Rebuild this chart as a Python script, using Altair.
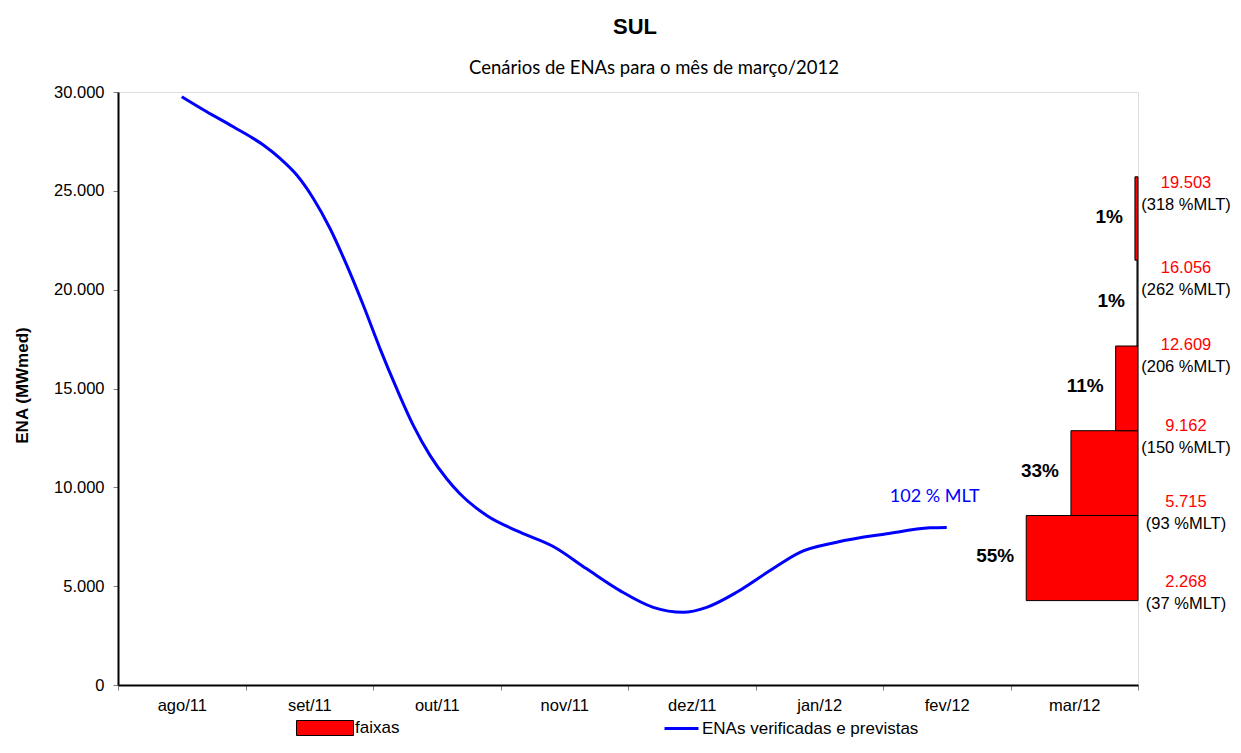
import altair as alt
import pandas as pd

FONT = "Liberation Sans"

months = ["ago/11", "set/11", "out/11", "nov/11", "dez/11", "jan/12", "fev/12", "mar/12"]

# ENAs verificadas e previstas (position in month units, value in MWmed)
line_pos = [0.5, 0.696, 0.904, 1.140, 1.271, 1.402, 1.532, 1.663, 1.794, 1.924, 2.055,
            2.186, 2.316, 2.447, 2.578, 2.682, 2.892, 3.153, 3.414, 3.676, 3.937, 4.198,
            4.434, 4.617, 4.852, 5.114, 5.349, 5.637, 6.029, 6.369, 6.5]
line_val = [29760, 29000, 28240, 27315, 26640, 25800, 24615, 23095, 21240, 19210, 17020,
            14990, 13135, 11615, 10435, 9675, 8575, 7730, 7005, 5875, 4775, 3930,
            3680, 3930, 4690, 5790, 6715, 7225, 7650, 7950, 7970]
end_label = "102 % MLT"

# faixas (scenario bands for março/2012)
band_low = [4270, 8575, 12865, 17150, 21490]
band_high = [8575, 12865, 17150, 21490, 25710]
band_pct = [55, 33, 11, 0.5, 1.5]
band_pct_label = ["55%", "33%", "11%", "1%", "1%"]

# threshold labels
thr_val = ["2.268", "5.715", "9.162", "12.609", "16.056", "19.503"]
thr_mlt = ["(37 %MLT)", "(93 %MLT)", "(150 %MLT)", "(206 %MLT)", "(262 %MLT)", "(318 %MLT)"]
thr_y = [5200, 9250, 13100, 17190, 21120, 25380]

title_text = "SUL"
subtitle_text = "Cenários de ENAs para o mês de março/2012"

line_df = pd.DataFrame({"pos": line_pos, "ena": line_val,
                        "serie": "ENAs verificadas e previstas"})
end_df = line_df.tail(1).assign(lbl=end_label)
band_df = pd.DataFrame({"lo": band_low, "hi": band_high, "pct": band_pct,
                        "plbl": band_pct_label, "serie": "faixas"})
band_df["mid"] = (band_df["lo"] + band_df["hi"]) / 2
band_df["zero"] = 0
thr_df = pd.DataFrame({"val": thr_val, "mlt": thr_mlt, "ly": thr_y, "zero": 0})

month_arr = "[" + ",".join("'%s'" % m for m in months) + ", '']"

y_axis = alt.Axis(
    values=list(range(0, 30001, 5000)),
    labelExpr="replace(format(datum.value, ',d'), ',', '.')",
    title="ENA (MWmed)", titleFont=FONT, titleFontSize=17, titleFontWeight="bold",
    titleColor="black", titleAngle=270, titleX=-96, titleY=293, titleAlign="center",
    titleBaseline="middle",
    labelFont=FONT, labelFontSize=16.5, labelColor="black", labelPadding=9,
    tickColor="#808080", tickSize=5, domainColor="black", domainWidth=2, grid=False,
)
y_scale = alt.Scale(domain=[0, 30000], nice=False)

x_axis = alt.Axis(
    values=list(range(0, 9)),
    labelExpr=month_arr + "[datum.value]",
    labelOffset=63.75, labelFlush=False, labelOverlap=False,
    labelFont=FONT, labelFontSize=16.5, labelColor="black", labelPadding=7,
    tickColor="#808080", tickSize=5, domainColor="black", domainWidth=2,
    grid=False, title=None,
)

line = alt.Chart(line_df).mark_line(strokeWidth=3, interpolate="monotone").encode(
    x=alt.X("pos:Q", scale=alt.Scale(domain=[0, 8], nice=False, zero=False), axis=x_axis),
    y=alt.Y("ena:Q", scale=y_scale, axis=y_axis),
    stroke=alt.Stroke("serie:N", scale=alt.Scale(domain=["ENAs verificadas e previstas"],
                                                  range=["#0000FF"]),
                      legend=alt.Legend(orient="none", legendX=545, legendY=618,
                                        title=None, symbolType="stroke", symbolSize=1156,
                                        symbolStrokeWidth=3, labelFont=FONT,
                                        labelFontSize=17, labelColor="black",
                                        labelOffset=2, padding=0, labelLimit=0)),
)
end_text = alt.Chart(end_df).mark_text(
    font="Lato", fontSize=18, color="#0000FF", dx=-12, dy=-30
).encode(
    x=alt.X("pos:Q"), y=alt.Y("ena:Q", scale=y_scale, axis=y_axis), text="lbl:N"
)
main = alt.layer(line, end_text)

xb = alt.Scale(domain=[0, 502], reverse=True, nice=False, zero=False)
bars = alt.Chart(band_df).mark_bar(stroke="black", strokeWidth=1).encode(
    x=alt.X("pct:Q", scale=xb, axis=None),
    x2="zero:Q",
    y=alt.Y("lo:Q", scale=y_scale, axis=y_axis),
    y2="hi:Q",
    fill=alt.Fill("serie:N", scale=alt.Scale(domain=["faixas"], range=["#FF0000"]),
                  legend=alt.Legend(orient="none", legendX=178, legendY=607, title=None,
                                    symbolType="M-1,-0.263H1V0.263H-1Z", symbolSize=3249,
                                    symbolStrokeColor="black", symbolStrokeWidth=1,
                                    labelFont=FONT, labelFontSize=17, labelColor="black",
                                    labelOffset=1, padding=0, labelLimit=0)),
)
pct_text = alt.Chart(band_df).mark_text(
    font=FONT, fontSize=19, fontWeight="bold", color="black", align="right", dx=-12, dy=-2
).encode(
    x=alt.X("pct:Q", scale=xb, axis=None),
    y=alt.Y("mid:Q", scale=y_scale, axis=y_axis),
    text="plbl:N",
)
thr_red = alt.Chart(thr_df).mark_text(
    font=FONT, fontSize=16.5, color="#FF0000", align="center", dx=48
).encode(
    x=alt.X("zero:Q", scale=xb, axis=None),
    y=alt.Y("ly:Q", scale=y_scale, axis=y_axis),
    text="val:N",
)
thr_blk = alt.Chart(thr_df).mark_text(
    font=FONT, fontSize=16.5, color="black", align="center", dx=48, dy=22
).encode(
    x=alt.X("zero:Q", scale=xb, axis=None),
    y=alt.Y("ly:Q", scale=y_scale, axis=y_axis),
    text="mlt:N",
)
side = alt.layer(bars, pct_text, thr_red, thr_blk)

title_df = pd.DataFrame({"t": [title_text]})
subtitle_df = pd.DataFrame({"t": [subtitle_text]})
title_mark = alt.Chart(title_df).mark_text(
    font=FONT, fontSize=22, fontWeight="bold", color="black", align="center",
    baseline="middle"
).encode(x=alt.value(517), y=alt.value(-65), text="t:N")
subtitle_mark = alt.Chart(subtitle_df).mark_text(
    font="Lato", fontSize=18.5, color="black", align="center", baseline="middle"
).encode(x=alt.value(536), y=alt.value(-24), text="t:N")

chart = alt.layer(main, side, title_mark, subtitle_mark).resolve_scale(
    x="independent"
).properties(
    width=1020, height=593,
    autosize=alt.AutoSizeParams(type="none"),
    padding={"left": 110, "top": 84, "right": 95, "bottom": 56},
).configure_view(stroke="#808080", strokeWidth=2).configure(background="white")

chart.save("out.html", embed_options={"renderer": "svg", "actions": False})
